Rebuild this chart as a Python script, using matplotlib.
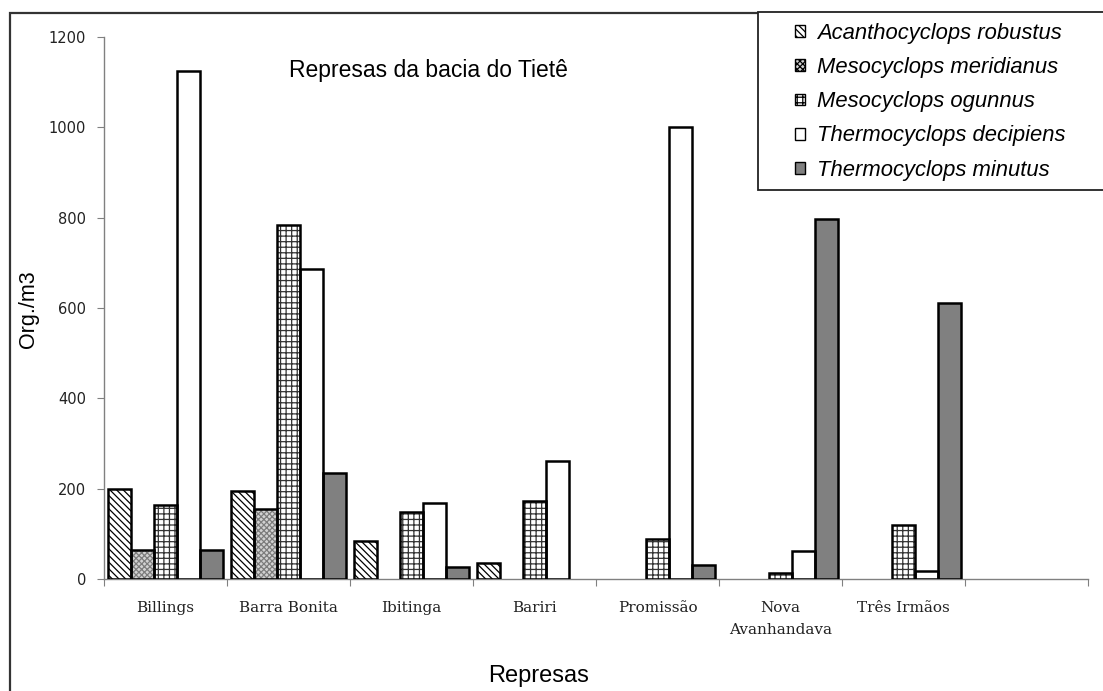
import matplotlib
matplotlib.use("Agg")
import matplotlib.pyplot as plt
import numpy as np
from matplotlib.patches import Patch, Rectangle

# Copepod densities (Org./m3) per reservoir of the Tietê basin
reservoirs = ["Billings", "Barra Bonita", "Ibitinga", "Bariri", "Promissão",
              "Nova\nAvanhandava", "Três Irmãos"]
species = ["Acanthocyclops robustus", "Mesocyclops meridianus",
           "Mesocyclops ogunnus", "Thermocyclops decipiens",
           "Thermocyclops minutus"]
a_robustus = [200, 195, 85, 36, 0, 0, 0]
m_meridianus = [65, 155, 0, 0, 0, 0, 0]
m_ogunnus = [163, 783, 148, 173, 88, 14, 120]
t_decipiens = [1125, 686, 168, 262, 1000, 63, 18]
t_minutus = [65, 235, 27, 0, 31, 798, 611]
y_ticks = [0, 200, 400, 600, 800, 1000, 1200]
n_slots = 8  # one empty category slot at the right end

series = [a_robustus, m_meridianus, m_ogunnus, t_decipiens, t_minutus]
styles = [
    dict(face="white", hatch="\\\\\\\\\\", hcolor="black"),
    dict(face="#d2d2d2", hatch="xxxxxx", hcolor="#7c7c7c"),
    dict(face="white", hatch="+++", hcolor="#333333"),
    dict(face="white", hatch=None, hcolor="white"),
    dict(face="#808080", hatch=None, hcolor="#808080"),
]

plt.rcParams["hatch.linewidth"] = 0.9

W, H = 1103, 691
fig = plt.figure(figsize=(W / 100, H / 100), dpi=100)
fig.patch.set_facecolor("white")


def fx(px):
    return px / W


def fy(py):
    return 1 - py / H


ax = fig.add_axes([fx(104), fy(579), fx(1088) - fx(104), fy(37) - fy(579)])

x = np.arange(len(reservoirs)) + 0.5
width = 0.188
for j, (vals, st) in enumerate(zip(series, styles)):
    v = np.asarray(vals, dtype=float)
    m = v > 0
    xs = x[m] + (j - 2) * width
    ax.bar(xs, v[m], width, color=st["face"], edgecolor=st["hcolor"],
           linewidth=0, hatch=st["hatch"], zorder=2)
    ax.bar(xs, v[m], width, fill=False, edgecolor="black",
           linewidth=1.8, zorder=3)

ax.set_xlim(0, n_slots)
ax.set_ylim(y_ticks[0], y_ticks[-1])
ax.set_yticks(y_ticks)
ax.set_xticks(np.arange(n_slots + 1))
ax.set_xticks(x, reservoirs, minor=True)

for s in ("top", "right"):
    ax.spines[s].set_visible(False)
for s in ("left", "bottom"):
    ax.spines[s].set_color("#808080")
    ax.spines[s].set_linewidth(1.0)

ax.tick_params(axis="y", direction="out", length=5, color="#808080",
               labelsize=10.5, pad=8, labelcolor="#222222")
ax.tick_params(axis="x", which="major", direction="out", length=5,
               color="#808080", labelbottom=False)
ax.tick_params(axis="x", which="minor", length=0, pad=16, labelsize=11,
               labelcolor="#222222")
for lbl in ax.get_yticklabels():
    lbl.set_family("DejaVu Sans")
for lbl in ax.get_xticklabels(minor=True):
    lbl.set_family("DejaVu Serif")
    lbl.set_linespacing(1.7)

# Outer frame of the chart area
fig.patches.append(Rectangle((fx(10), fy(H + 20)), fx(W + 20) - fx(10),
                             fy(13) - fy(H + 20), transform=fig.transFigure,
                             fill=False, edgecolor="#333333", linewidth=1.6,
                             zorder=1))

# Titles
fig.text(fx(428), fy(70), "Represas da bacia do Tietê", ha="center",
         va="center", fontsize=16.5, family="Liberation Sans")
fig.text(fx(28), fy(309), "Org./m3", ha="center", va="center", rotation=90,
         fontsize=15.5, family="Liberation Sans")
fig.text(fx(539), fy(676), "Represas", ha="center", va="center",
         fontsize=17, family="Liberation Sans")

# Legend box
fig.patches.append(Rectangle((fx(758), fy(190)), fx(1115) - fx(758),
                             fy(12) - fy(190), transform=fig.transFigure,
                             facecolor="white", edgecolor="#222222",
                             linewidth=1.3, zorder=4))
handles = [Patch(facecolor=st["face"], edgecolor="black", hatch=st["hatch"],
                 linewidth=1.0) for st in styles]
leg = fig.legend(handles, species, loc="upper left",
                 bbox_to_anchor=(fx(795), fy(23)), frameon=False,
                 borderpad=0, borderaxespad=0, handlelength=0.45,
                 handleheight=0.45, handletextpad=0.55, labelspacing=0.6,
                 prop=dict(family="Liberation Sans", style="italic", size=15.8))
leg.set_zorder(5)

fig.savefig("out.png", dpi=100, facecolor="white")
